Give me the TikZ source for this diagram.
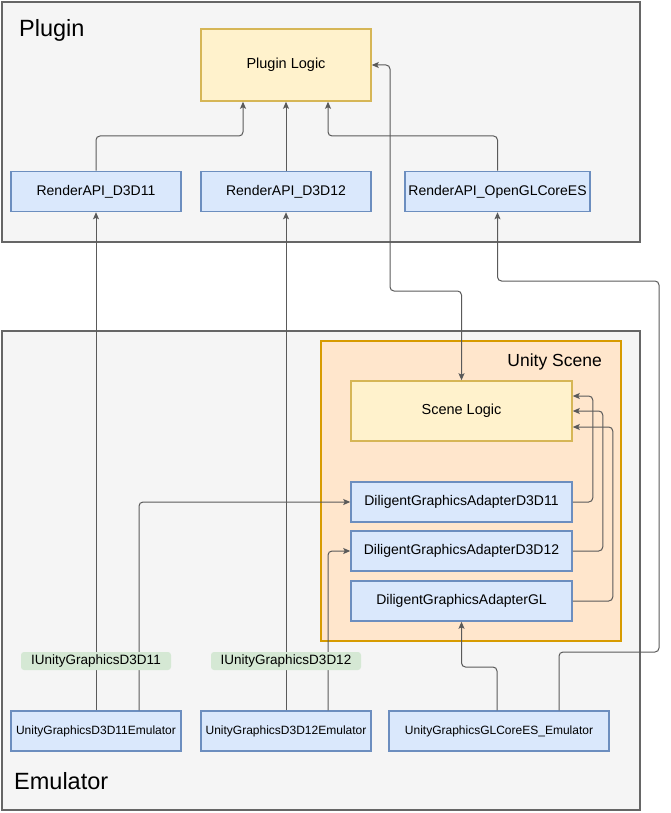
\documentclass[tikz,border=0pt]{standalone}
\usepackage{fontspec}
\setmainfont{Liberation Sans}
\usetikzlibrary{arrows.meta}

\definecolor{groupfill}{HTML}{F5F5F5}
\definecolor{groupline}{HTML}{666666}
\definecolor{logicfill}{HTML}{FFF2CC}
\definecolor{logicline}{HTML}{D6B656}
\definecolor{apifill}{HTML}{DAE8FC}
\definecolor{apiline}{HTML}{6C8EBF}
\definecolor{scenefill}{HTML}{FFE6CC}
\definecolor{sceneline}{HTML}{D79B00}
\definecolor{tagfill}{HTML}{D5E8D4}
\definecolor{linkline}{HTML}{5A5A5A}

\begin{document}
\begin{tikzpicture}[x=1pt, y=-1pt,
    group/.style={draw=groupline, fill=groupfill, line width=1.5pt, inner sep=0pt},
    logic/.style={draw=logicline, fill=logicfill, line width=1.5pt, font=\fontsize{14.5}{17}\selectfont},
    api/.style={draw=apiline, fill=apifill, line width=1.5pt, minimum height=40pt, inner sep=1pt, font=\fontsize{14}{16}\selectfont},
    emu/.style={api, font=\fontsize{12}{14}\selectfont},
    tag/.style={fill=tagfill, rounded corners=3pt, minimum width=150pt, minimum height=18pt, inner sep=0pt, font=\fontsize{13.5}{16}\selectfont},
    title/.style={font=\fontsize{23.5}{28}\selectfont, inner sep=0pt},
    link/.style={draw=linkline, line width=1pt, rounded corners=4pt, -{Stealth[length=7pt, width=6pt, inset=1.5pt]}}
]
    \useasboundingbox (0, 0) rectangle (670, 813);

        % Declare the groups
        \node[group, minimum width=638pt, minimum height=240pt] at (321, 122) (plugin) {};
        \node[group, minimum width=638pt, minimum height=479pt] at (321, 570.5) (emulator) {};
        \node[draw=sceneline, fill=scenefill, line width=1.5pt, minimum width=300pt, minimum height=300pt] at (471, 491) (unity) {};
        \node[title, anchor=west] at (19, 30) (plugintitle) {Plugin};
        \node[title, anchor=west] at (14, 781) (emutitle) {Emulator};
        \node[title, anchor=east, font=\fontsize{17.5}{21}\selectfont] at (602, 362) (unitytitle) {Unity Scene};

        % Declare the plugin nodes
        \node[logic, minimum width=170pt, minimum height=72pt] at (286, 65) (logic) {Plugin Logic};
        \node[api, minimum width=170pt] at (96, 191.5) (rd11) {RenderAPI\_D3D11};
        \node[api, minimum width=170pt] at (286, 191.5) (rd12) {RenderAPI\_D3D12};
        \node[api, minimum width=185pt] at (497.5, 191.5) (rgl) {RenderAPI\_OpenGLCoreES};

        % Declare the scene nodes
        \node[logic, minimum width=221pt, minimum height=60pt] at (461.5, 411) (scene) {Scene Logic};
        \node[api, minimum width=221pt] at (461.5, 502) (dga11) {DiligentGraphicsAdapterD3D11};
        \node[api, minimum width=221pt] at (461.5, 551) (dga12) {DiligentGraphicsAdapterD3D12};
        \node[api, minimum width=221pt] at (461.5, 601) (dgagl) {DiligentGraphicsAdapterGL};

        % Declare the emulator nodes
        \node[emu, minimum width=170pt] at (96, 731) (e11) {UnityGraphicsD3D11Emulator};
        \node[emu, minimum width=170pt] at (286, 731) (e12) {UnityGraphicsD3D12Emulator};
        \node[emu, minimum width=220pt] at (499, 731) (egl) {UnityGraphicsGLCoreES\_Emulator};

        % Declare edges to the plugin logic
        \draw[link] (rd11.north) -- (rd11.north |- 0, 136) -| ([xshift=-43pt]logic.south);
        \draw[link] (rd12) -- (logic);
        \draw[link] (rgl.north) -- (rgl.north |- 0, 136) -| ([xshift=42pt]logic.south);
        \draw[link, {Stealth[length=7pt, width=6pt, inset=1.5pt]}-{Stealth[length=7pt, width=6pt, inset=1.5pt]}] (scene.north) |- (390, 291) |- (logic.east);

        % Declare edges to the scene logic
        \draw[link] (dga11.east) -- ++(20, 0) |- ([yshift=15pt]scene.east);
        \draw[link] (dga12.east) -- ++(30, 0) |- (scene.east);
        \draw[link] (dgagl.east) -- ++(40, 0) |- ([yshift=-16pt]scene.east);

        % Declare edges from the emulators
        \draw[link] (e11) -- (rd11);
        \draw[link] ([xshift=43pt]e11.north) |- (dga11.west);
        \draw[link] (e12) -- (rd12);
        \draw[link] ([xshift=42pt]e12.north) |- (dga12.west);
        \draw[link] ([xshift=-2pt]egl.north) -- ([xshift=-2pt]egl.north |- 0, 667) -| (dgagl.south);
        \draw[link] ([xshift=60pt]egl.north) |- (659, 652) |- (rgl.south |- 0, 281) -- (rgl.south);

        % Declare interface labels
        \node[tag] at (96, 661) (i11) {IUnityGraphicsD3D11};
        \node[tag] at (286, 661) (i12) {IUnityGraphicsD3D12};

    \end{tikzpicture}
\end{document}
